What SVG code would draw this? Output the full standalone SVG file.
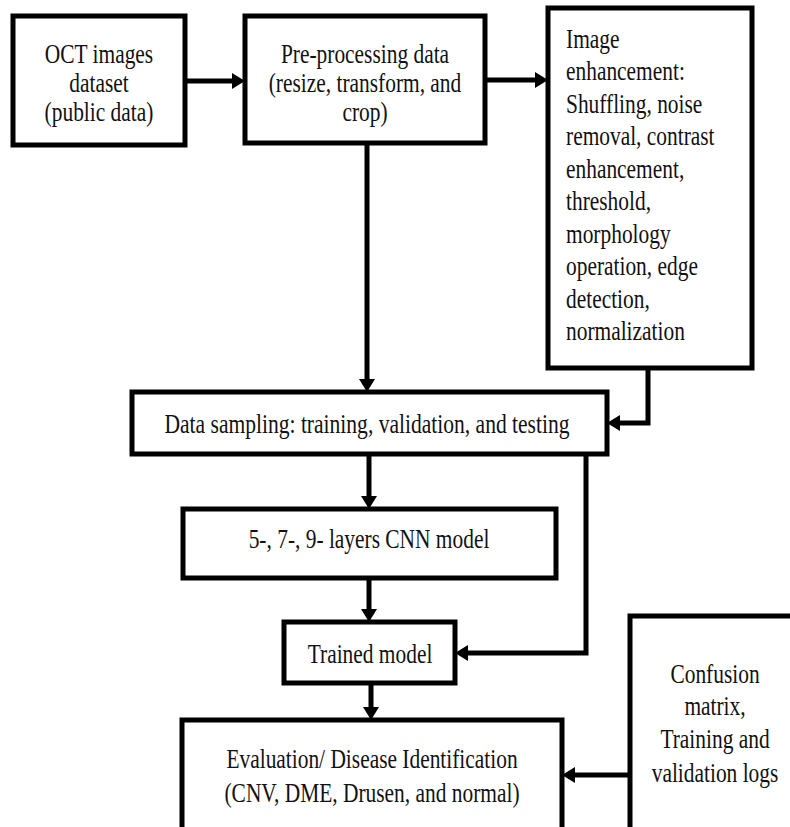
<svg xmlns="http://www.w3.org/2000/svg" width="790" height="827" viewBox="0 0 790 827">
<style>
.box{fill:#fff;stroke:#000;stroke-width:5}
.t{font-family:"Liberation Serif","Times New Roman",serif;font-size:28px;fill:#111}
.c{text-anchor:middle}
.l{text-anchor:start}
.conn{fill:none;stroke:#000;stroke-width:5;marker-end:url(#ah)}
</style>
<defs>
<marker id="ah" markerUnits="userSpaceOnUse" markerWidth="14" markerHeight="18" refX="0" refY="8" orient="auto" overflow="visible">
<path d="M0,0 L13,8 L0,16 z" fill="#000"/>
</marker>
</defs>
<rect width="790" height="827" fill="#fff"/>
<g id="connectors">
<path class="conn" d="M185,81 H232"/>
<path class="conn" d="M485,80 H535"/>
<path class="conn" d="M367,143 V379"/>
<path class="conn" d="M648,368 V423 H620"/>
<path class="conn" d="M369,453 V496"/>
<path class="conn" d="M586,453 V653 H468"/>
<path class="conn" d="M369,578 V609"/>
<path class="conn" d="M371,683 V707"/>
<path class="conn" d="M630,775 H575"/>
</g>
<g id="oct">
<rect class="box" x="13" y="16" width="172" height="129"/>
<text class="t c" transform="translate(99,63) scale(0.765,1)">OCT images</text>
<text class="t c" transform="translate(99,92) scale(0.765,1)">dataset</text>
<text class="t c" transform="translate(99,121) scale(0.765,1)">(public data)</text>
</g>
<g id="preprocessing">
<rect class="box" x="245" y="16" width="240" height="127"/>
<text class="t c" transform="translate(365,63) scale(0.765,1)">Pre-processing data</text>
<text class="t c" transform="translate(365,92) scale(0.765,1)">(resize, transform, and</text>
<text class="t c" transform="translate(365,121) scale(0.765,1)">crop)</text>
</g>
<g id="enhancement">
<rect class="box" x="548" y="8" width="204" height="360"/>
<text class="t l" transform="translate(566,47.5) scale(0.765,1)">Image</text>
<text class="t l" transform="translate(566,80) scale(0.765,1)">enhancement:</text>
<text class="t l" transform="translate(566,112.5) scale(0.765,1)">Shuffling, noise</text>
<text class="t l" transform="translate(566,145) scale(0.765,1)">removal, contrast</text>
<text class="t l" transform="translate(566,177.5) scale(0.765,1)">enhancement,</text>
<text class="t l" transform="translate(566,210) scale(0.765,1)">threshold,</text>
<text class="t l" transform="translate(566,242.5) scale(0.765,1)">morphology</text>
<text class="t l" transform="translate(566,275) scale(0.765,1)">operation, edge</text>
<text class="t l" transform="translate(566,307.5) scale(0.765,1)">detection,</text>
<text class="t l" transform="translate(566,340) scale(0.765,1)">normalization</text>
</g>
<g id="sampling">
<rect class="box" x="132" y="392" width="475" height="62"/>
<text class="t c" transform="translate(367,433) scale(0.77,1)">Data sampling: training, validation, and testing</text>
</g>
<g id="cnn">
<rect class="box" x="183" y="509" width="373" height="69"/>
<text class="t c" transform="translate(369,548) scale(0.765,1)">5-, 7-, 9- layers CNN model</text>
</g>
<g id="trained">
<rect class="box" x="284" y="622" width="171" height="61"/>
<text class="t c" transform="translate(370,663) scale(0.765,1)">Trained model</text>
</g>
<g id="evaluation">
<rect class="box" x="182" y="720" width="380" height="120"/>
<text class="t c" transform="translate(372,768) scale(0.765,1)">Evaluation/ Disease Identification</text>
<text class="t c" transform="translate(372,802) scale(0.765,1)">(CNV, DME, Drusen, and normal)</text>
</g>
<g id="confusion">
<rect class="box" x="630" y="616" width="180" height="230"/>
<text class="t c" transform="translate(715,683) scale(0.765,1)">Confusion</text>
<text class="t c" transform="translate(715,715) scale(0.765,1)">matrix,</text>
<text class="t c" transform="translate(715,748) scale(0.765,1)">Training and</text>
<text class="t c" transform="translate(715,782) scale(0.765,1)">validation logs</text>
</g>
</svg>
